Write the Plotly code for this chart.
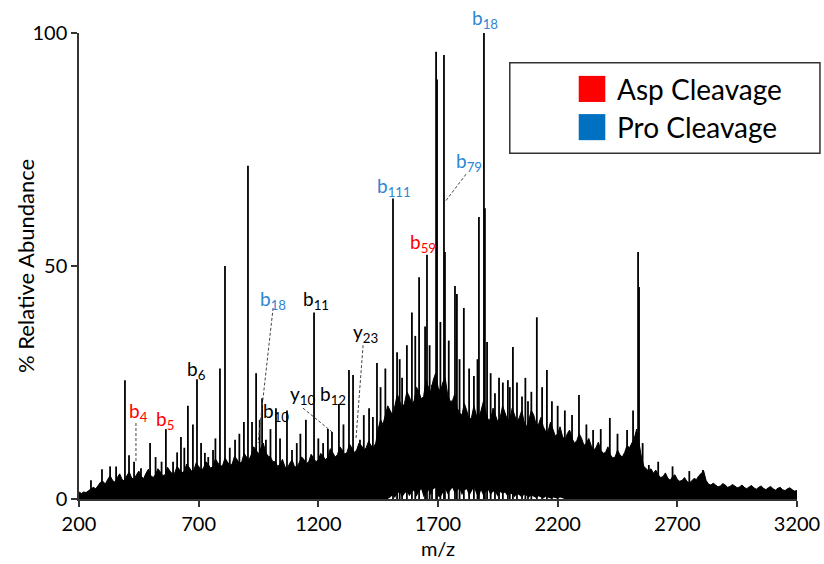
import plotly.graph_objects as go

# ---------------- data ----------------
# dense signal envelope (upper edge) sampled every 10 m/z from 200 to 3200
env_mz = list(range(200, 3201, 10))
env_upper = [
    1.5, 1.2, 1.5, 1.4, 1.8, 2.2, 2.5, 2.2, 3.0, 3.6, 3.8, 3.2, 4.2, 5.0, 4.0, 3.6, 4.6, 5.4, 4.2, 3.8,          # 200-390
    5.0, 5.8, 4.5, 4.2, 5.2, 6.0, 4.8, 4.4, 5.5, 6.4, 5.0, 4.6, 5.3, 6.5, 5.8, 5.0, 5.2, 6.8, 6.0, 5.4,          # 400-590
    5.6, 7.0, 6.3, 5.6, 6.0, 7.5, 6.8, 6.0, 6.2, 7.8, 7.0, 6.2, 6.6, 8.0, 7.4, 6.6, 7.0, 8.6, 7.8, 7.0,          # 600-790
    7.2, 8.8, 8.0, 7.2, 7.5, 9.2, 8.5, 7.6, 8.0, 9.8, 9.0, 8.4, 9.5, 11.2, 10.5, 9.6, 11.0, 12.0, 10.0, 9.2,     # 800-990
    9.0, 8.0, 8.0, 7.0, 7.5, 8.5, 7.0, 6.5, 7.6, 8.4, 7.0, 6.8, 7.8, 9.0, 8.5, 7.6, 8.0, 9.6, 8.8, 8.0,          # 1000-1190
    8.4, 9.8, 9.2, 8.4, 9.0, 10.8, 10.0, 9.0, 9.5, 11.2, 10.5, 9.6, 10.0, 11.8, 11.0, 10.0, 10.5, 12.0, 11.5, 10.5,  # 1200-1390
    11.0, 12.4, 11.5, 11.0, 12.0, 15.0, 17.0, 16.0, 18.0, 20.0, 19.0, 18.0, 20.0, 22.5, 21.0, 19.5, 20.5, 23.0, 22.0, 20.5,  # 1400-1590
    21.0, 24.0, 23.0, 21.5, 22.0, 25.5, 24.0, 23.0, 25.5, 27.0, 24.0, 23.0, 25.0, 26.0, 22.5, 21.0, 21.0, 22.5, 19.5, 18.5,  # 1600-1790
    18.0, 20.5, 19.0, 17.0, 17.5, 20.0, 18.0, 17.5, 19.0, 21.0, 18.5, 17.0, 17.0, 19.5, 18.0, 16.5, 17.5, 20.0, 18.5, 17.0,  # 1800-1990
    17.0, 19.5, 18.0, 16.5, 17.5, 19.0, 16.5, 15.5, 17.0, 19.0, 18.0, 16.0, 16.0, 17.5, 15.5, 14.5, 14.5, 16.5, 15.0, 13.5,  # 2000-2190
    14.0, 15.5, 13.5, 12.5, 14.0, 14.8, 13.0, 12.0, 12.5, 14.0, 13.0, 11.5, 12.0, 13.0, 11.5, 10.5, 11.0, 12.2, 10.5, 9.8,   # 2200-2390
    10.0, 11.2, 9.5, 8.8, 9.0, 10.5, 9.5, 9.0, 10.0, 11.5, 11.0, 12.0, 13.0, 15.0, 12.0, 9.0, 7.0, 6.5, 6.0, 6.5,          # 2400-2590
    5.5, 6.2, 5.2, 4.6, 4.8, 5.6, 4.5, 4.0, 4.8, 5.2, 4.2, 3.8, 4.0, 4.6, 3.8, 3.4, 4.0, 4.4, 4.2, 5.0,                   # 2600-2790
    5.5, 6.0, 4.0, 3.2, 3.0, 3.4, 3.0, 2.6, 2.8, 3.3, 3.0, 2.5, 2.7, 3.1, 2.8, 2.4, 2.6, 3.0, 2.5, 2.2,                   # 2800-2990
    2.6, 2.9, 2.4, 2.1, 2.5, 2.8, 2.3, 2.0, 2.4, 2.7, 2.2, 1.9, 2.3, 2.5, 2.0, 1.8, 2.2, 2.4, 2.0, 1.7,                   # 3000-3190
    1.8,                                                                                                               # 3200
]
# lower edge of the signal (baseline lifts a little between ~1500 and ~2230)
env_lower = [0.0] * 130 + [
    0.3, 0.8, 0.2, 1.2, 1.5, 0.3, 1.1, 1.6, 0.6, 1.4,   # 1500-1590
    1.8, 0.5, 1.5, 2.1, 0.4, 1.2, 1.9, 0.8, 2.1, 2.4,   # 1600-1690
    0.6, 0.3, 1.4, 2.2, 1.0, 1.8, 2.4, 1.2, 1.9, 2.2,   # 1700-1790
    0.8, 1.8, 2.1, 0.6, 1.6, 2.5, 1.1, 0.5, 1.8, 0.6,   # 1800-1890
    1.5, 1.9, 0.8, 1.6, 1.4, 0.5, 1.5, 1.1, 1.4, 0.6,   # 1900-1990
    1.2, 1.0, 0.4, 1.1, 0.8, 0.3, 0.9, 0.7, 0.3, 0.8,   # 2000-2090
    0.5, 0.2, 0.6, 0.4, 0.1, 0.5, 0.3, 0.1, 0.3, 0.2,   # 2100-2190
    0.1, 0.3, 0.1, 0.0,                                 # 2200-2230
] + [0.0] * 97

# centroid peaks
peak_mz = [250, 296, 330, 355, 392, 409, 430, 459, 497, 520, 545, 563, 593, 610, 626, 640,
           655, 676, 693, 710, 726, 740, 760, 770, 789, 810, 830, 852, 870, 889, 906, 923,
           940, 955, 965, 981, 1000, 1023, 1040, 1069, 1090, 1110, 1125, 1148, 1182, 1200,
           1220, 1240, 1257, 1286, 1305, 1328, 1345, 1374, 1390, 1412, 1428, 1445, 1460,
           1480, 1512, 1529, 1540, 1550, 1570, 1591, 1605, 1621, 1646, 1654, 1665, 1675,
           1692, 1696, 1710, 1725, 1729, 1745, 1771, 1779, 1790, 1808, 1830, 1850, 1865,
           1871, 1892, 1896, 1905, 1920, 1938, 1955, 1971, 1992, 2000, 2013, 2030, 2051,
           2065, 2076, 2090, 2113, 2135, 2155, 2176, 2200, 2230, 2260, 2289, 2320, 2348,
           2380, 2418, 2450, 2490, 2515, 2536, 2540, 2555, 2581, 2620, 2680, 2750, 2807]
peak_int = [4.0, 6.4, 7.0, 7.0, 25.5, 9.4, 8.0, 6.6, 12.0, 9.0, 8.0, 15.0, 8.0, 10.0, 13.3, 11.0,
            20.0, 16.0, 25.7, 12.0, 9.9, 9.0, 10.5, 13.0, 28.0, 50.0, 11.0, 12.7, 14.0, 16.5, 71.5, 16.5,
            27.0, 17.0, 21.6, 12.7, 15.0, 19.5, 13.0, 19.0, 10.5, 12.0, 14.0, 17.0, 40.0, 13.0,
            12.0, 15.0, 14.4, 20.4, 16.0, 27.7, 26.6, 12.7, 18.0, 19.5, 17.6, 29.2, 24.0,
            28.0, 64.5, 31.5, 30.0, 26.0, 33.0, 40.0, 35.0, 47.6, 37.0, 52.4, 33.0, 24.5,
            96.0, 90.0, 38.0, 95.3, 53.0, 34.0, 45.7, 44.0, 30.0, 41.0, 28.0, 26.4, 30.0,
            60.5, 100.0, 62.4, 33.7, 27.0, 22.7, 26.0, 25.0, 25.5, 24.0, 32.6, 25.0, 22.0,
            26.0, 21.0, 23.0, 39.0, 24.0, 27.7, 21.0, 20.0, 19.0, 18.0, 22.3, 16.0, 14.8,
            15.0, 17.4, 14.0, 14.8, 19.0, 53.0, 45.5, 12.0, 7.3, 8.0, 7.0, 6.0, 6.2]

# fragment labels
label_text = ["b<sub>4</sub>", "b<sub>5</sub>", "b<sub>6</sub>", "b<sub>18</sub>", "b<sub>10</sub>",
              "b<sub>11</sub>", "y<sub>10</sub>", "b<sub>12</sub>", "y<sub>23</sub>",
              "b<sub>111</sub>", "b<sub>59</sub>", "b<sub>79</sub>"]
label_kind = ["asp", "asp", "none", "pro", "none", "none", "none", "none", "none",
              "pro", "asp", "pro"]
label_mz = [447, 559, 693, 1012, 1023, 1192, 1138, 1263, 1397, 1518, 1637, 1828]
label_y = [18.7, 17.0, 27.7, 42.7, 18.7, 42.7, 22.3, 22.3, 35.6, 67.0, 55.0, 72.3]
top_label_text = "b<sub>18</sub>"
top_label_mz = 1898

# dashed leader lines (from label to peak)
lead_x0 = [438, 1011, 1136, 1387, 1817]
lead_y0 = [16.3, 41.0, 19.5, 33.0, 69.7]
lead_x1 = [438, 948, 1257, 1357, 1733]
lead_y1 = [7.9, 12.0, 14.4, 12.7, 64.0]

legend_names = ["Asp Cleavage", "Pro Cleavage"]

x_ticks = [200, 700, 1200, 1700, 2200, 2700, 3200]
y_ticks = [0, 50, 100]

# ---------------- styling ----------------
FONT = "Lato"
RED = "#FF0000"
BLUE_TXT = "#2F86D1"
BLUE_BOX = "#0070C0"
AXIS = "#333333"
kind_color = {"asp": RED, "pro": BLUE_TXT, "none": "#000000"}

fig = go.Figure()

fig.add_trace(go.Scatter(x=env_mz, y=env_lower, mode="lines",
                         line=dict(width=0, color="black"), hoverinfo="skip",
                         showlegend=False))
fig.add_trace(go.Scatter(x=env_mz, y=env_upper, mode="lines", fill="tonexty",
                         fillcolor="black", line=dict(width=1, color="black"),
                         hoverinfo="skip", showlegend=False))

sx, sy = [], []
for m, h in zip(peak_mz, peak_int):
    sx += [m, m, None]
    sy += [0, h, None]
fig.add_trace(go.Scatter(x=sx, y=sy, mode="lines",
                         line=dict(width=1.8, color="black"),
                         hoverinfo="skip", showlegend=False))

annotations = []
for t, k, m, yv in zip(label_text, label_kind, label_mz, label_y):
    annotations.append(dict(x=m, y=yv, xref="x", yref="y", text=t, showarrow=False,
                            font=dict(family=FONT, size=19, color=kind_color[k]),
                            xanchor="center", yanchor="middle"))
annotations.append(dict(x=top_label_mz, y=100, xref="x", yref="y", text=top_label_text,
                        showarrow=False, font=dict(family=FONT, size=19, color=BLUE_TXT),
                        xanchor="center", yanchor="bottom", yshift=-1))

# y-axis title
annotations.append(dict(x=-0.0752, y=0.5, xref="paper", yref="paper",
                        text="% Relative Abundance", textangle=-90, showarrow=False,
                        xanchor="center", yanchor="middle",
                        font=dict(family=FONT, size=22, color="black")))

shapes = []
for x0, y0, x1, y1 in zip(lead_x0, lead_y0, lead_x1, lead_y1):
    shapes.append(dict(type="line", xref="x", yref="y", x0=x0, y0=y0, x1=x1, y1=y1,
                       line=dict(color="#444444", width=1, dash="3px,2px")))

# legend box
shapes.append(dict(type="rect", xref="paper", yref="paper", x0=0.600, x1=1.032,
                   y0=0.742, y1=0.936, line=dict(color=AXIS, width=1.5),
                   fillcolor="white", layer="above"))
sq_colors = [RED, BLUE_BOX]
sq_y = [(0.852, 0.908), (0.770, 0.826)]
for c, (a, b), name in zip(sq_colors, sq_y, legend_names):
    shapes.append(dict(type="rect", xref="paper", yref="paper", x0=0.696, x1=0.733,
                       y0=a, y1=b, line=dict(width=0), fillcolor=c, layer="above"))
    annotations.append(dict(x=0.7465, y=(a + b) / 2, xref="paper", yref="paper",
                            text=name, showarrow=False, xanchor="left", yanchor="middle",
                            font=dict(family=FONT, size=28, color="black")))

fig.update_layout(
    width=824, height=564,
    margin=dict(l=79, r=27, t=33, b=65),
    paper_bgcolor="white", plot_bgcolor="white",
    font=dict(family=FONT, size=20, color="black"),
    showlegend=False,
    annotations=annotations, shapes=shapes,
)
fig.update_xaxes(range=[200, 3200], tickvals=x_ticks, ticks="outside", ticklen=6,
                 tickwidth=1.5, tickcolor=AXIS, showline=True, linecolor=AXIS,
                 linewidth=1.5, showgrid=False, zeroline=False, automargin=False,
                 tickfont=dict(family=FONT, size=20),
                 title=dict(text="m/z", font=dict(family=FONT, size=20), standoff=8))
fig.update_yaxes(range=[0, 100], tickvals=y_ticks, ticks="outside", ticklen=6,
                 tickwidth=1.5, tickcolor=AXIS, showline=True, linecolor=AXIS,
                 linewidth=1.5, showgrid=False, zeroline=False, automargin=False,
                 tickfont=dict(family=FONT, size=20))

# let the figure fill the page exactly (no default body margin, no scrollbars)
fig.write_html("out.html",
               config={"displayModeBar": False},
               post_script="document.body.style.margin='0px';"
                           "document.body.style.overflow='hidden';")
